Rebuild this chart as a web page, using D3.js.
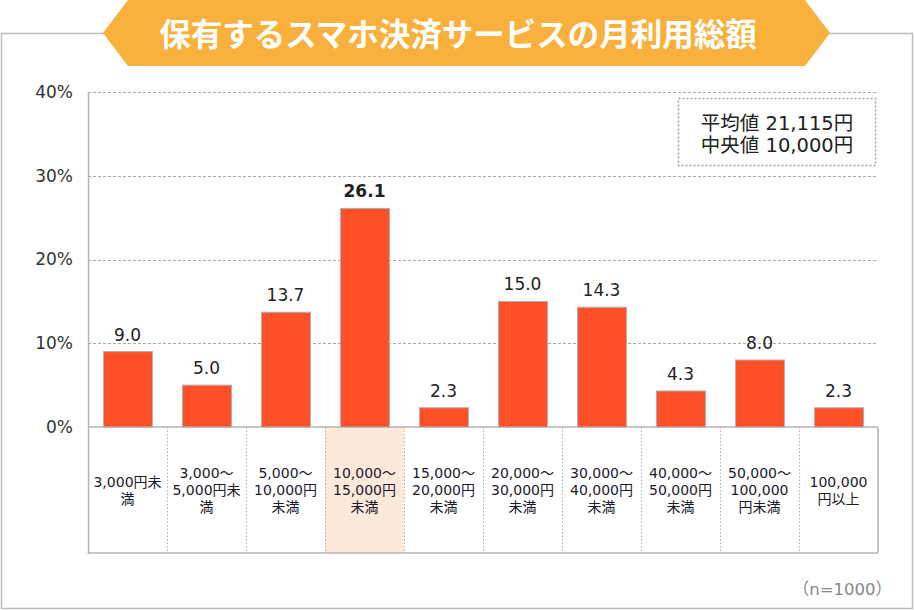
<!DOCTYPE html>
<html><head><meta charset="utf-8">
<script src="https://cdn.jsdelivr.net/npm/d3@7"></script>
<style>
body{margin:0;background:#fff;}
svg{display:block;font-family:"DejaVu Sans","Noto Sans CJK JP",sans-serif;}
</style></head>
<body><div id="chart"></div>
<script>
const title = "保有するスマホ決済サービスの月利用総額";
const categories = ["3,000円未満","3,000～5,000円未満","5,000～10,000円未満","10,000～15,000円未満","15,000～20,000円未満","20,000～30,000円未満","30,000～40,000円未満","40,000～50,000円未満","50,000～100,000円未満","100,000円以上"];
const categoryLines = [
  ["3,000円未","満"],
  ["3,000～","5,000円未","満"],
  ["5,000～","10,000円","未満"],
  ["10,000～","15,000円","未満"],
  ["15,000～","20,000円","未満"],
  ["20,000～","30,000円","未満"],
  ["30,000～","40,000円","未満"],
  ["40,000～","50,000円","未満"],
  ["50,000～","100,000","円未満"],
  ["100,000","円以上"]
];
const values = [9.0, 5.0, 13.7, 26.1, 2.3, 15.0, 14.3, 4.3, 8.0, 2.3];
const yTicks = [0, 10, 20, 30, 40];
const highlightIndex = 3;
const statLines = ["平均値 21,115円", "中央値 10,000円"];
const note = "（n=1000）";

(function(){
const W = 914, H = 610;
const svg = d3.select("#chart").append("svg").attr("width", W).attr("height", H);

// outer frame
svg.append("rect").attr("x", 1.5).attr("y", 33.5).attr("width", 911).attr("height", 575)
  .attr("fill", "none").attr("stroke", "#bdbdbd").attr("stroke-width", 1.5);

// banner
const bx0 = 103, bx1 = 128, bx2 = 805, bx3 = 830, by0 = 0, by1 = 33, by2 = 66;
svg.append("path")
  .attr("d", `M${bx0},${by1}L${bx1},${by0}L${bx2},${by0}L${bx3},${by1}L${bx2},${by2}L${bx1},${by2}Z`)
  .attr("fill", "#F9B03D");
svg.append("text").attr("x", 458).attr("y", 46).attr("text-anchor", "middle")
  .attr("font-family", "'Noto Sans CJK JP'").attr("font-weight", "bold")
  .attr("font-size", 31.5).attr("fill", "#fff").text(title);

// plot
const pLeft = 88, pRight = 878, pTop = 92, pBase = 427, pBottom = 553;
const x = d3.scaleBand().domain(categories).range([pLeft, pRight]).paddingInner(0).paddingOuter(0);
const y = d3.scaleLinear().domain([0, 40]).range([pBase, pTop]);

// highlight column
svg.append("rect").attr("x", x(categories[highlightIndex])).attr("y", pBase)
  .attr("width", x.bandwidth()).attr("height", pBottom - pBase).attr("fill", "#FCE9DA");

// gridlines
svg.append("g").selectAll("line").data(yTicks.filter(d => d > 0)).join("line")
  .attr("x1", pLeft).attr("x2", pRight).attr("y1", d => Math.round(y(d)) + 0.5).attr("y2", d => Math.round(y(d)) + 0.5)
  .attr("stroke", "#a8a8a8").attr("stroke-dasharray", "3,2").attr("stroke-width", 1);

// y axis labels
const yAxis = d3.axisLeft(y).tickValues(yTicks).tickFormat(d => d + "%").tickSize(0).tickPadding(15);
const ya = svg.append("g").attr("transform", `translate(${pLeft},0)`).call(yAxis);
ya.select(".domain").remove();
ya.selectAll("text").attr("font-size", 17).attr("fill", "#333")
  .attr("font-family", "'DejaVu Sans'");

// category separators
svg.append("g").selectAll("line").data(categories.slice(1)).join("line")
  .attr("x1", d => Math.round(x(d)) + 0.5).attr("x2", d => Math.round(x(d)) + 0.5)
  .attr("y1", pBase).attr("y2", pBottom)
  .attr("stroke", "#b0b0b0").attr("stroke-dasharray", "1.5,2").attr("stroke-width", 1);

// borders of plot box
const bc = "#b3b3b3";
svg.append("line").attr("x1", pLeft + 0.5).attr("x2", pLeft + 0.5).attr("y1", pTop).attr("y2", pBottom + 1).attr("stroke", bc).attr("stroke-width", 1.5);
svg.append("line").attr("x1", pRight).attr("x2", pRight).attr("y1", pBase).attr("y2", pBottom).attr("stroke", bc).attr("stroke-width", 1.5);
svg.append("line").attr("x1", pLeft).attr("x2", pRight).attr("y1", pBottom).attr("y2", pBottom).attr("stroke", bc).attr("stroke-width", 1.5);
svg.append("line").attr("x1", pLeft).attr("x2", pRight).attr("y1", pBase).attr("y2", pBase).attr("stroke", bc).attr("stroke-width", 1.5);

// bars
const barPad = 15;
svg.append("g").selectAll("rect").data(values).join("rect")
  .attr("x", (d, i) => x(categories[i]) + barPad + 0.5)
  .attr("y", d => y(d))
  .attr("width", x.bandwidth() - 2 * barPad)
  .attr("height", d => pBase - y(d))
  .attr("fill", "#FF5027").attr("stroke", "#b0b0b0").attr("stroke-width", 1);

// value labels
svg.append("g").selectAll("text").data(values).join("text")
  .attr("x", (d, i) => x(categories[i]) + x.bandwidth() / 2)
  .attr("y", d => y(d) - 11)
  .attr("text-anchor", "middle").attr("font-size", 17).attr("fill", "#222")
  .attr("font-weight", (d, i) => i === highlightIndex ? "bold" : "normal")
  .text(d => d.toFixed(1));

// category labels
const lh = 17;
const cg = svg.append("g").selectAll("text").data(categoryLines).join("text")
  .attr("text-anchor", "middle").attr("font-size", 14).attr("fill", "#1a1a2a")
  .attr("x", (d, i) => x(categories[i]) + x.bandwidth() / 2)
  .attr("y", d => 490 - (d.length - 1) * lh / 2 + 5);
cg.selectAll("tspan").data(d => d).join("tspan")
  .attr("x", function() { return d3.select(this.parentNode).attr("x"); })
  .attr("dy", (d, i) => i === 0 ? 0 : lh)
  .text(d => d);

// stats box
svg.append("rect").attr("x", 678.5).attr("y", 98.5).attr("width", 197).attr("height", 67)
  .attr("fill", "#fff").attr("stroke", "#a0a0a0").attr("stroke-width", 1.5).attr("stroke-dasharray", "2,2");
svg.append("g").selectAll("text").data(statLines).join("text")
  .attr("x", 777).attr("y", (d, i) => 130 + i * 22)
  .attr("text-anchor", "middle").attr("font-size", 19.5).attr("fill", "#222").text(d => d);

// note
svg.append("text").attr("x", 892).attr("y", 595).attr("text-anchor", "end")
  .attr("font-size", 16.5).attr("fill", "#888").text(note);
})();
</script></body></html>
